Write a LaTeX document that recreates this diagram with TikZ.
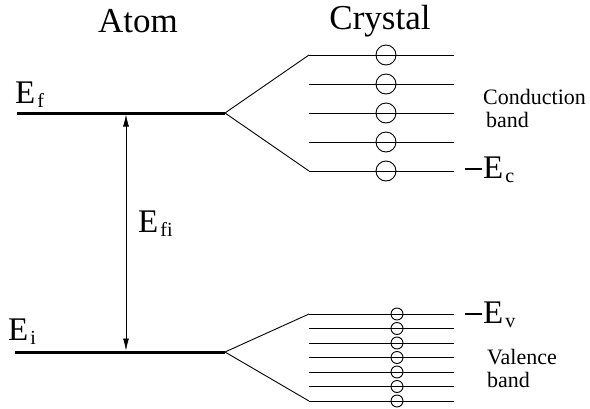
\documentclass[tikz,border=0pt]{standalone}
\usepackage{fontspec}
\setmainfont{Liberation Serif}
\usetikzlibrary{arrows.meta}
\tikzstyle{title}=[anchor=base,inner sep=0pt,font=\fontsize{35}{40}\selectfont]
\tikzstyle{elab}=[anchor=base west,inner sep=0pt,font=\fontsize{33}{36}\selectfont]
\tikzstyle{blab}=[anchor=base west,inner sep=0pt,font=\fontsize{22}{23}\selectfont,align=left]
\tikzstyle{alevel}=[line width=3pt]
\tikzstyle{clevel}=[line width=0.9pt]
\tikzstyle{bigc}=[circle,draw,line width=0.9pt,inner sep=0pt,minimum size=20pt]
\tikzstyle{smallc}=[circle,draw,line width=0.9pt,inner sep=0pt,minimum size=12pt]
\tikzstyle{gap}=[{Latex[length=12pt,width=6pt]}-{Latex[length=12pt,width=6pt]},line width=0.7pt,shorten <=1.5pt,shorten >=1.5pt]
\newcommand{\lsub}[1]{\kern2pt\raisebox{-4pt}{\fontsize{20}{20}\selectfont #1}}
\newcommand{\edge}{\rule[7.8pt]{17pt}{2.6pt}\kern1pt}

\begin{document}
\begin{tikzpicture}[x=1pt,y=-1pt]
\useasboundingbox (0,0) rectangle (590,408);
% titles
\node[title] (atom) at (138,32) {Atom};
\node[title] (crystal) at (380,29) {Crystal};
% atom levels
\coordinate (Efl) at (17,113); \coordinate (Efr) at (225,113);
\coordinate (Eil) at (15,352); \coordinate (Eir) at (225,352);
\coordinate (Atop) at (126,113); \coordinate (Abot) at (126,352);
\draw[alevel](Efl)--(Efr);\draw[alevel](Eil)--(Eir);
\draw[gap](Atop)--(Abot);
\node[elab] (ef) at (15,103) {E\lsub{f}};
\node[elab] (ei) at (8,340) {E\lsub{i}};
\node[elab] (efi) at (138,232) {E\lsub{fi}};
% conduction band
\coordinate (U1a) at (309,55); \coordinate (U1b) at (454,55);
\coordinate (U2a) at (309,84); \coordinate (U2b) at (454,84);
\coordinate (U3a) at (309,113); \coordinate (U3b) at (454,113);
\coordinate (U4a) at (309,142); \coordinate (U4b) at (454,142);
\coordinate (U5a) at (309,171); \coordinate (U5b) at (454,171);
\draw[clevel](U1a)--(U1b);\draw[clevel](U2a)--(U2b);\draw[clevel](U3a)--(U3b);\draw[clevel](U4a)--(U4b);\draw[clevel](U5a)--(U5b);
\draw[clevel](Efr)--(U1a);\draw[clevel](Efr)--(U5a);
\node[bigc] (O1) at (386,55) {};
\node[bigc] (O2) at (386,84) {};
\node[bigc] (O3) at (386,113) {};
\node[bigc] (O4) at (386,142) {};
\node[bigc] (O5) at (386,171) {};
\node[elab] (ec) at (465,178) {\edge E\lsub{c}};
\node[blab] (cb) at (483,127) {Conduction\\\kern3pt band};
% valence band
\coordinate (L1a) at (309,314); \coordinate (L1b) at (454,314);
\coordinate (L2a) at (309,328.5); \coordinate (L2b) at (454,328.5);
\coordinate (L3a) at (309,343); \coordinate (L3b) at (454,343);
\coordinate (L4a) at (309,357.5); \coordinate (L4b) at (454,357.5);
\coordinate (L5a) at (309,372); \coordinate (L5b) at (454,372);
\coordinate (L6a) at (309,386.5); \coordinate (L6b) at (454,386.5);
\coordinate (L7a) at (309,401); \coordinate (L7b) at (454,401);
\draw[clevel](L1a)--(L1b);\draw[clevel](L2a)--(L2b);\draw[clevel](L3a)--(L3b);\draw[clevel](L4a)--(L4b);
\draw[clevel](L5a)--(L5b);\draw[clevel](L6a)--(L6b);\draw[clevel](L7a)--(L7b);
\draw[clevel](Eir)--(L1a);\draw[clevel](Eir)--(L7a);
\node[smallc] (o1) at (397,314) {};
\node[smallc] (o2) at (397,328.5) {};
\node[smallc] (o3) at (397,343) {};
\node[smallc] (o4) at (397,357.5) {};
\node[smallc] (o5) at (397,372) {};
\node[smallc] (o6) at (397,386.5) {};
\node[smallc] (o7) at (397,401) {};
\node[elab] (ev) at (465,323) {\edge E\lsub{v}};
\node[blab] (vb) at (487,387) {Valence\\band};
\end{tikzpicture}
\end{document}
